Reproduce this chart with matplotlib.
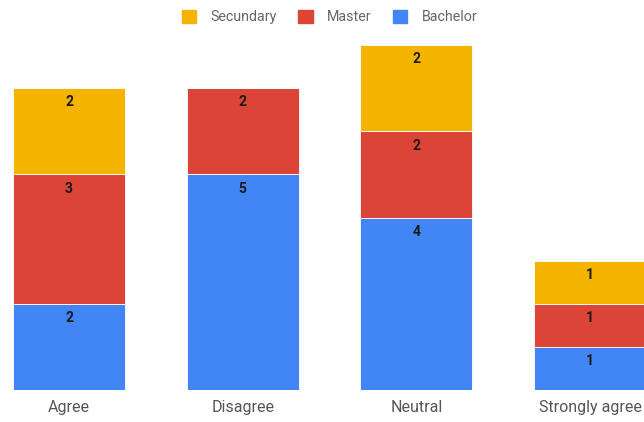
import matplotlib.pyplot as plt
from matplotlib.patches import Patch

categories = ["Agree", "Disagree", "Neutral", "Strongly agree"]
bachelor = [2, 5, 4, 1]
master = [3, 2, 2, 1]
secundary = [2, 0, 2, 1]

colors = {"Bachelor": "#4285F4", "Master": "#DB4437", "Secundary": "#F4B400"}

fig = plt.figure(figsize=(6.44, 4.22), dpi=100)
ax = fig.add_axes([0, 32 / 422, 1, 345 / 422])

x = range(len(categories))
bottom = [0] * len(categories)
for name, vals in [("Bachelor", bachelor), ("Master", master), ("Secundary", secundary)]:
    bars = ax.bar(x, vals, bottom=bottom, width=0.645, color=colors[name],
                  edgecolor="white", linewidth=0.6)
    for b, v, base in zip(bars, vals, bottom):
        if v == 0:
            continue
        ax.annotate(str(v), (b.get_x() + b.get_width() / 2, base + v),
                    xytext=(0, -10.3), textcoords="offset points",
                    ha="center", va="center", fontsize=10, color="#1a1a1a",
                    fontweight="bold", family="Roboto")
    bottom = [b + v for b, v in zip(bottom, vals)]

ax.set_xlim(-69 / 173.7, (644 - 69) / 173.7)
ax.set_ylim(0, 8)
ax.set_xticks(list(x))
ax.set_xticklabels(categories, fontsize=11.5, color="#555555", family="Roboto")
ax.tick_params(axis="x", length=0, pad=7)
ax.set_yticks([])
for s in ax.spines.values():
    s.set_visible(False)

handles = [Patch(color=colors[n]) for n in ["Secundary", "Master", "Bachelor"]]
fig.legend(handles, ["Secundary", "Master", "Bachelor"], loc="center",
           bbox_to_anchor=(0.512, 1 - 17 / 422), ncol=3, frameon=False,
           prop={"family": "Roboto", "size": 10.3}, labelcolor="#666666",
           handlelength=1.0, handleheight=1.0, columnspacing=1.5, handletextpad=1.0)

fig.savefig("out.png", dpi=100)
